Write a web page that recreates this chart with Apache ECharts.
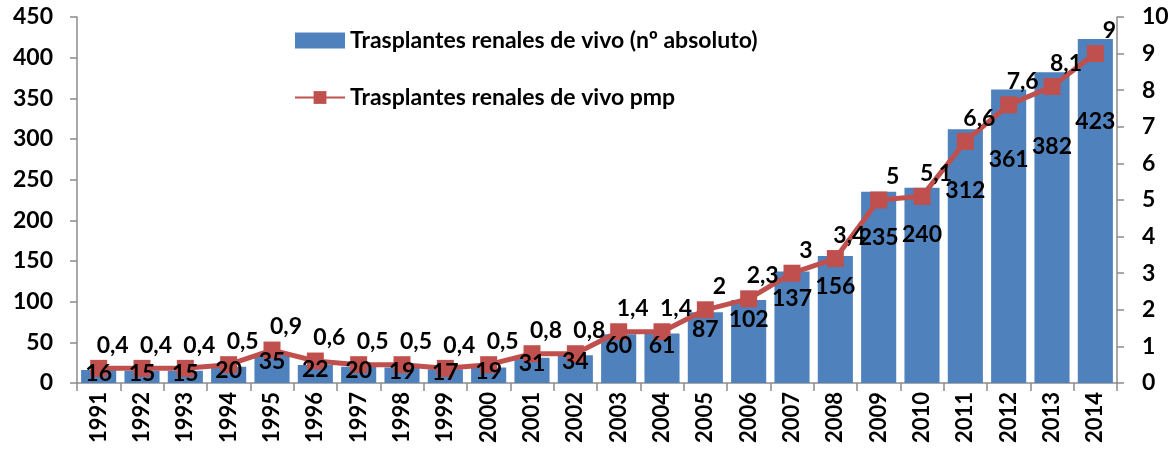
<!DOCTYPE html>
<html>
<head>
<meta charset="utf-8">
<script src="https://cdn.jsdelivr.net/npm/echarts@6/dist/echarts.min.js"></script>
<style>
  html, body { margin: 0; padding: 0; background: #fff; }
  #chart { width: 1175px; height: 458px; }
</style>
</head>
<body>
<div id="chart"></div>
<script>
// años
var years = ['1991', '1992', '1993', '1994', '1995', '1996', '1997', '1998', '1999', '2000',
  '2001', '2002', '2003', '2004', '2005', '2006', '2007', '2008', '2009', '2010',
  '2011', '2012', '2013', '2014']
// nº absoluto
var absoluto = [16, 15, 15, 20, 35, 22, 20, 19, 17, 19, 31, 34, 60, 61, 87, 102, 137, 156, 235, 240, 312, 361, 382, 423]
// pmp
var pmp = [0.4, 0.4, 0.4, 0.5, 0.9, 0.6, 0.5, 0.5, 0.4, 0.5, 0.8, 0.8, 1.4, 1.4, 2, 2.3, 3, 3.4, 5, 5.1, 6.6, 7.6, 8.1, 9]

var font = 'Lato, "Open Sans", sans-serif'
var axisColor = '#8c8c8c'

var chart = echarts.init(document.getElementById('chart'))

var option = {
  textStyle: { fontFamily: font },
  animation: false,
  legend: {
    orient: 'vertical',
    left: 289,
    top: 24,
    itemGap: 34,
    itemWidth: 50,
    itemHeight: 16,
    textStyle: { fontSize: 23, fontWeight: 'bold', color: '#000', fontFamily: font },
    data: [
      { name: 'Trasplantes renales de vivo (nº absoluto)', icon: 'rect' },
      { name: 'Trasplantes renales de vivo pmp' }
    ]
  },
  grid: {
    left: 77,
    right: 58,
    top: 17,
    bottom: 75
  },
  xAxis: {
    type: 'category',
    data: years,
    axisLine: { lineStyle: { color: axisColor, width: 1.5 } },
    axisTick: { show: true, alignWithLabel: false, length: 8, lineStyle: { color: axisColor, width: 1.5 } },
    axisLabel: {
      rotate: 90,
      interval: 0,
      margin: 9,
      fontSize: 22,
      fontWeight: 'bold',
      color: '#000'
    }
  },
  yAxis: [
    {
      type: 'value',
      min: 0,
      max: 450,
      interval: 50,
      splitLine: { show: false },
      axisLine: { show: true, lineStyle: { color: axisColor, width: 1.5 } },
      axisTick: { show: true, length: 7, lineStyle: { color: axisColor, width: 1.5 } },
      axisLabel: { fontSize: 23, fontWeight: 'bold', color: '#000', margin: 24 }
    },
    {
      type: 'value',
      min: 0,
      max: 10,
      interval: 1,
      splitLine: { show: false },
      axisLine: { show: true, lineStyle: { color: axisColor, width: 1.5 } },
      axisTick: { show: true, length: 7, lineStyle: { color: axisColor, width: 1.5 } },
      axisLabel: { fontSize: 23, fontWeight: 'bold', color: '#000', margin: 25 }
    }
  ],
  series: [
    {
      name: 'Trasplantes renales de vivo (nº absoluto)',
      type: 'bar',
      data: absoluto,
      barCategoryGap: '19%',
      itemStyle: { color: '#4f81bd' },
      z: 2
    },
    {
      name: 'Trasplantes renales de vivo pmp',
      type: 'line',
      yAxisIndex: 1,
      data: pmp,
      symbol: 'rect',
      symbolSize: 17,
      z: 3,
      lineStyle: { color: '#c0504d', width: 5 },
      itemStyle: { color: '#c0504d' },
      label: {
        show: true,
        position: 'top',
        distance: 3,
        offset: [14, 0],
        fontSize: 23,
        fontWeight: 'bold',
        color: '#000',
        formatter: function (p) {
          return String(p.value).replace('.', ',')
        }
      }
    },
    {
      // etiquetas de las barras encima de la línea
      name: 'etiquetas',
      type: 'bar',
      data: absoluto,
      barGap: '-100%',
      barCategoryGap: '19%',
      itemStyle: { color: 'rgba(0,0,0,0)' },
      silent: true,
      z: 4,
      label: {
        show: true,
        position: ['50%', '24%'],
        align: 'center',
        verticalAlign: 'middle',
        fontSize: 23,
        fontWeight: 'bold',
        color: '#000'
      }
    }
  ]
}

chart.setOption(option)
</script>
</body>
</html>
